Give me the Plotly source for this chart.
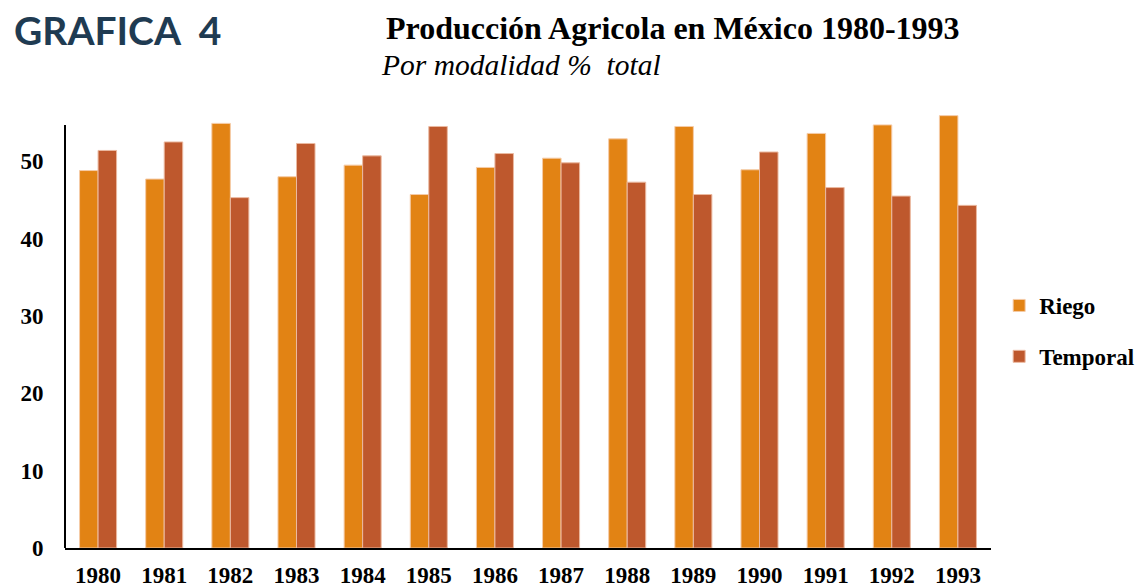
import plotly.graph_objects as go

years = ['1980', '1981', '1982', '1983', '1984', '1985', '1986',
         '1987', '1988', '1989', '1990', '1991', '1992', '1993']
riego = [48.8, 47.7, 54.9, 48.0, 49.5, 45.7, 49.2, 50.4, 52.9, 54.5, 48.9, 53.6, 54.7, 55.9]
temporal = [51.4, 52.5, 45.3, 52.3, 50.7, 54.5, 51.0, 49.8, 47.3, 45.7, 51.2, 46.6, 45.5, 44.3]
y_ticks = [0, 10, 20, 30, 40, 50]

serif = 'Liberation Serif'

fig = go.Figure()
fig.add_trace(go.Bar(x=years, y=riego, name='Riego', legendgroup='a',
                     marker=dict(color='#E28314', line=dict(color='#F5CBA7', width=1))))
fig.add_trace(go.Bar(x=years, y=temporal, name='Temporal', legendgroup='b',
                     marker=dict(color='#BE582D', line=dict(color='#EBB9A0', width=1))))

# y axis line stops short of the top like in the original
fig.add_shape(type='line', xref='paper', yref='y', x0=0, x1=0, y0=0, y1=54.7,
              line=dict(color='black', width=2))

fig.add_annotation(text='GRAFICA  4', xref='paper', yref='paper', x=0.0565, y=1.185,
                   xanchor='center', yanchor='middle', showarrow=False, borderpad=0,
                   font=dict(family='Lato', size=39, color='#1F3B52', weight='bold'))
fig.add_annotation(text='Producción Agricola en México 1980-1993', xref='paper', yref='paper',
                   x=0.345, y=1.19, xanchor='left', yanchor='middle', showarrow=False,
                   font=dict(family=serif, size=32, color='black', weight='bold'))
fig.add_annotation(text='<i>Por modalidad %  total</i>', xref='paper', yref='paper',
                   x=0.339, y=1.105, xanchor='left', yanchor='middle', showarrow=False,
                   font=dict(family=serif, size=29.5, color='black'))

# page body has an 8px margin, so the figure is 8px smaller each way
fig.update_layout(
    width=1136, height=579,
    margin=dict(l=57, r=153, t=103, b=39, autoexpand=False),
    plot_bgcolor='white', paper_bgcolor='white',
    barmode='group', bargap=0.44, bargroupgap=0,
    legend=dict(x=1.0088, y=0.4966, xanchor='left', yanchor='middle',
                traceorder='grouped', tracegroupgap=18,
                font=dict(family=serif, size=23, color='black', weight='bold')),
    showlegend=True,
)
fig.update_xaxes(showline=True, linecolor='black', linewidth=2, showgrid=False,
                 ticks='outside', ticklen=5, tickcolor='rgba(0,0,0,0)',
                 tickfont=dict(family=serif, size=23, color='black', weight='bold'))
fig.update_yaxes(range=[0, 56.5], tickvals=y_ticks, showgrid=False, zeroline=False,
                 showline=False, ticks='outside', ticklen=16, tickcolor='rgba(0,0,0,0)',
                 tickfont=dict(family=serif, size=23, color='black', weight='bold'))

fig.write_html('out.html')
